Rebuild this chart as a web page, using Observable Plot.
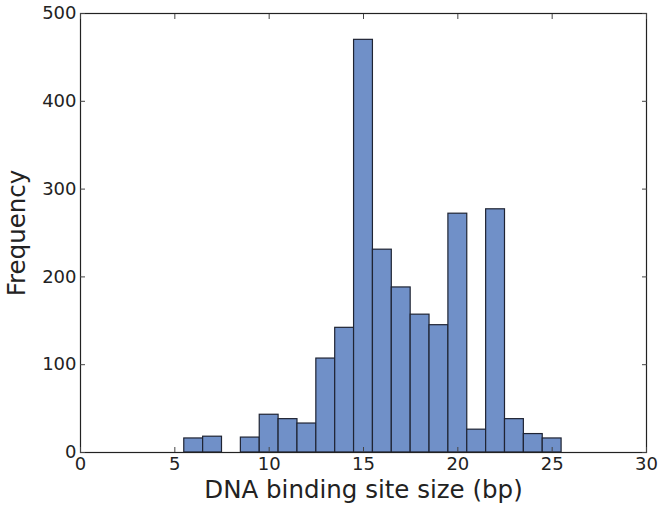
<!DOCTYPE html>
<html>
<head>
<meta charset="utf-8">
<script src="https://cdn.jsdelivr.net/npm/d3@7"></script>
<script src="https://cdn.jsdelivr.net/npm/@observablehq/plot@0.6"></script>
<style>
  html, body { margin: 0; padding: 0; background: #fff; }
  svg { display: block; }
</style>
</head>
<body>
<div id="chart"></div>
<script>
// bin centers (bp) and frequencies
const sizes = [6, 7, 8, 9, 10, 11, 12, 13, 14, 15, 16, 17, 18, 19, 20, 21, 22, 23, 24, 25];
const counts = [16, 18, 0, 17, 43, 38, 33, 107, 142, 470, 231, 188, 157, 145, 272, 26, 277, 38, 21, 16];
const xTicks = [0, 5, 10, 15, 20, 25, 30];
const yTicks = [0, 100, 200, 300, 400, 500];

const bins = sizes.map((s, i) => ({x1: s - 0.5, x2: s + 0.5, y: counts[i]}));

const font = "DejaVu Sans, sans-serif";
const chart = Plot.plot({
  width: 664,
  height: 510,
  marginLeft: 80,
  marginRight: 18,
  marginTop: 13,
  marginBottom: 58,
  style: {fontFamily: font, fontSize: "18px", color: "#222", background: "#fff"},
  x: {domain: [0, 30], ticks: xTicks},
  y: {domain: [0, 500], ticks: yTicks},
  marks: [
    Plot.rectY(bins.filter(d => d.y > 0), {x1: "x1", x2: "x2", y: "y", fill: "#7090c8", stroke: "#1f2433", strokeWidth: 1.2}),
    Plot.frame({stroke: "#222", strokeWidth: 1.2}),
    Plot.axisX(xTicks, {anchor: "bottom", tickSize: -5, tickPadding: 10, fontSize: 18, label: null, stroke: "#444"}),
    Plot.axisX(xTicks, {anchor: "top", tickSize: -5, tickFormat: () => "", label: null, stroke: "#444"}),
    Plot.axisY(yTicks, {anchor: "left", tickSize: -5, tickPadding: 9, fontSize: 18, label: null, stroke: "#444"}),
    Plot.axisY(yTicks, {anchor: "right", tickSize: -5, tickFormat: () => "", label: null, stroke: "#444"}),
    Plot.text(["DNA binding site size (bp)"], {frameAnchor: "bottom", dy: 45, fontSize: 24.5, fill: "#222", lineAnchor: "bottom"}),
    Plot.text(["Frequency"], {frameAnchor: "left", dx: -63, rotate: -90, textAnchor: "middle", fontSize: 24.5, fill: "#222"})
  ]
});
document.getElementById("chart").appendChild(chart);
</script>
</body>
</html>
